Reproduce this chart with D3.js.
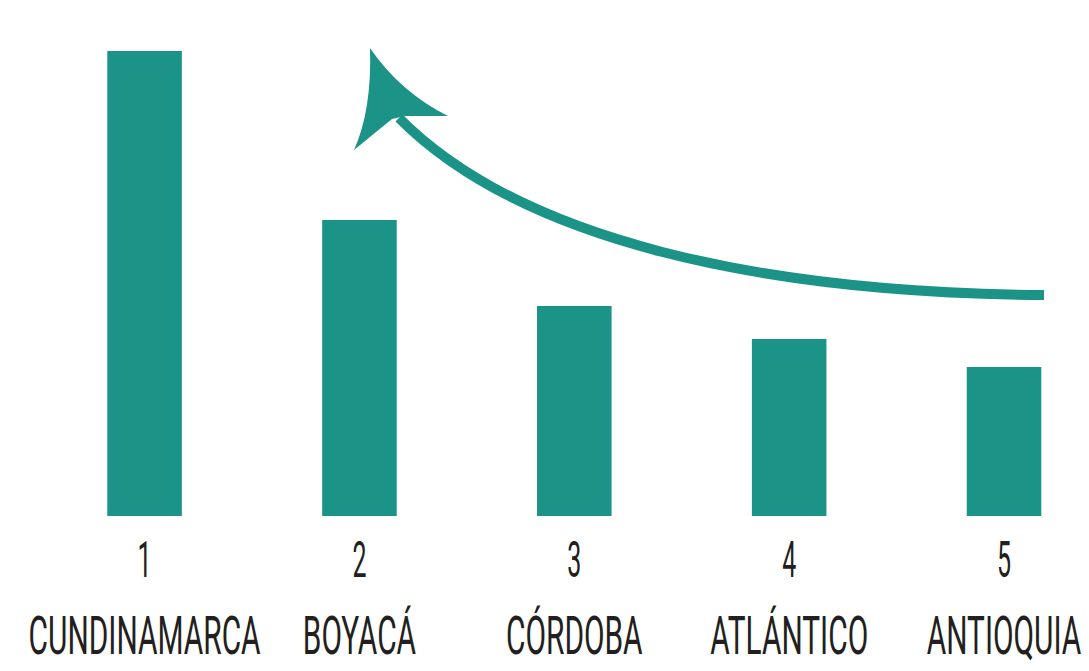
<!DOCTYPE html>
<html>
<head>
<meta charset="utf-8">
<script src="https://cdn.jsdelivr.net/npm/d3@7"></script>
<style>
  html, body { margin: 0; padding: 0; background: #ffffff; }
  svg { display: block; }
</style>
</head>
<body>
<script>
// ---- data ----
const categories = ["CUNDINAMARCA", "BOYACÁ", "CÓRDOBA", "ATLÁNTICO", "ANTIOQUIA"];
const ranks = ["1", "2", "3", "4", "5"];
const values = [465, 296, 210, 177, 149];

// ---- layout ----
const W = 1089, H = 671;
const teal = "#1b9386";
const ink = "#231f20";

const svg = d3.select("body").append("svg")
  .attr("width", W).attr("height", H);

const x = d3.scaleBand()
  .domain(categories)
  .range([107.3, 1041.3])
  .paddingInner(0.653)
  .paddingOuter(0);

const y = d3.scaleLinear()
  .domain([0, d3.max(values)])
  .range([516, 51]);

const data = categories.map((c, i) => ({ cat: c, rank: ranks[i], value: values[i] }));

// bars
svg.append("g").selectAll("rect")
  .data(data)
  .join("rect")
  .attr("x", d => x(d.cat))
  .attr("y", d => y(d.value))
  .attr("width", x.bandwidth())
  .attr("height", d => y(0) - y(d.value))
  .attr("fill", teal);

// condensed text via horizontal scaling
const fontFam = "'Roboto', 'Liberation Sans', sans-serif";
const sx = 0.5;

const rankG = svg.append("g");
rankG.selectAll("text")
  .data(data)
  .join("text")
  .attr("transform", d => `translate(${x(d.cat) + x.bandwidth() / 2},577) scale(${sx},1)`)
  .attr("text-anchor", "middle")
  .attr("font-family", fontFam)
  .attr("font-weight", 400)
  .attr("font-size", 50)
  .attr("fill", ink)
  .text(d => d.rank);

const nameG = svg.append("g");
const names = nameG.selectAll("text")
  .data(data)
  .join("text")
  .attr("text-anchor", "middle")
  .attr("font-family", fontFam)
  .attr("font-weight", 400)
  .attr("font-size", 54)
  .attr("fill", ink)
  .text(d => d.cat);

// fit global horizontal scale so that the first label spans its observed width
const firstLen = names.node().getComputedTextLength();
const nameScale = firstLen > 0 ? 232 / firstLen : sx;
names.attr("transform", d => `translate(${x(d.cat) + x.bandwidth() / 2},654) scale(${nameScale},1)`);

// ---- decorative curved arrow ----
const arrow = svg.append("g");
arrow.append("path")
  .attr("d", "M1044,295 C760,293 520,240 399,118")
  .attr("fill", "none")
  .attr("stroke", teal)
  .attr("stroke-width", 10);

arrow.append("path")
  .attr("d", "M370,48 Q372,110 354,150 L392,119 L405,116 L448,116 Q400,92 370,48 Z")
  .attr("fill", teal);
</script>
</body>
</html>
